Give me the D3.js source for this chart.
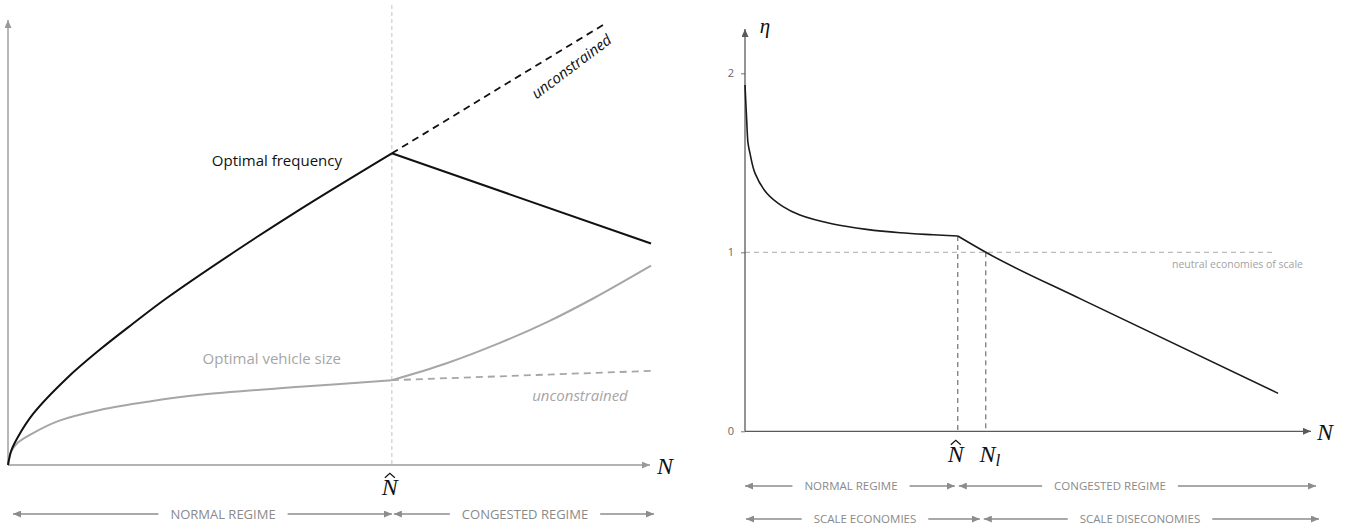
<!DOCTYPE html>
<html>
<head>
<meta charset="utf-8">
<script src="https://cdn.jsdelivr.net/npm/d3@7"></script>
<style>
  body { margin: 0; background: #fff; }
  svg { display: block; }
</style>
</head>
<body>
<svg id="chart" width="1353" height="530"></svg>
<script>
// ---------- Left panel: optimal frequency and vehicle size against demand N ----------
const nHatLeft = 0.597;
const freqNormalN = [0, 0.005, 0.015, 0.039, 0.092, 0.143, 0.194, 0.247, 0.35, 0.45, 0.597];
const freqNormal  = [0, 3.2, 6.2, 11.5, 19.6, 26.0, 31.8, 37.6, 47.8, 57.2, 70.2];
const freqCongestedN = [0.597, 1.0];
const freqCongested  = [70.2, 49.9];
const freqUnconstrainedN = [0.597, 0.931];
const freqUnconstrained  = [70.2, 99.6];

const sizeNormalN = [0, 0.005, 0.015, 0.039, 0.08, 0.143, 0.22, 0.299, 0.454, 0.597];
const sizeNormal  = [0, 3.0, 5.0, 7.2, 10.0, 12.4, 14.3, 15.8, 17.6, 19.1];
const sizeCongestedN = [0.597, 0.68, 0.765, 0.84, 0.91, 1.0];
const sizeCongested  = [19.1, 22.8, 27.5, 32.3, 37.5, 44.9];
const sizeUnconstrainedN = [0.597, 1.0];
const sizeUnconstrained  = [19.1, 21.2];

// ---------- Right panel: scale elasticity eta against N ----------
const nHatRight = 3.80;
const nL = 4.30;
const etaNormalN = [0, 0.03, 0.054, 0.089, 0.18, 0.39, 0.68, 0.98, 1.57, 2.17, 2.77, 3.36, 3.80];
const etaNormal  = [1.935, 1.739, 1.61, 1.553, 1.441, 1.33, 1.255, 1.208, 1.158, 1.128, 1.109, 1.098, 1.091];
const etaCongestedN = [3.80, 4.30, 6.01, 9.52];
const etaCongested  = [1.091, 1.0, 0.737, 0.212];
const etaTicks = [0, 1, 2];
const etaNeutral = 1;
const etaNeutralEndN = 9.43;

const leftRegimes  = ["NORMAL REGIME", "CONGESTED REGIME"];
const rightRegimes = ["NORMAL REGIME", "CONGESTED REGIME"];
const rightScale   = ["SCALE ECONOMIES", "SCALE DISECONOMIES"];

const zip = (xs, ys) => xs.map((x, i) => [x, ys[i]]);

const svg = d3.select("#chart");
const AXIS_L = "#9a9a9a", AXIS_R = "#5a5a5a", LABEL_GREY = "#8a8a8a", CURVE_GREY = "#a6a6a6";
const UI_FONT = "'Open Sans', 'Noto Sans', sans-serif";
const MATH_FONT = "'Liberation Serif', 'DejaVu Serif', serif";

// Arrowhead markers
const defs = svg.append("defs");
function marker(id, color, w, h) {
  defs.append("marker")
    .attr("id", id).attr("viewBox", `0 ${-h} ${w} ${2 * h}`)
    .attr("refX", w).attr("refY", 0)
    .attr("markerWidth", w).attr("markerHeight", 2 * h)
    .attr("markerUnits", "userSpaceOnUse")
    .attr("orient", "auto-start-reverse")
    .append("path").attr("d", `M0,${-h}L${w},0L0,${h}Z`).attr("fill", color);
}
marker("arrL", AXIS_L, 8, 3.5);
marker("arrR", AXIS_R, 8, 3.5);
marker("arrB", "#8c8c8c", 8, 3.5);

// ================= LEFT PANEL =================
const xL = d3.scaleLinear().domain([0, 1]).range([8, 651]);
const yL = d3.scaleLinear().domain([0, 100]).range([465, 21]);
const smoothL = d3.line().x(d => xL(d[0])).y(d => yL(d[1])).curve(d3.curveCatmullRom.alpha(0.5));
const straightL = d3.line().x(d => xL(d[0])).y(d => yL(d[1]));

const gL = svg.append("g");

// N-hat guide
gL.append("line")
  .attr("x1", xL(nHatLeft)).attr("x2", xL(nHatLeft))
  .attr("y1", 5).attr("y2", yL(0))
  .attr("stroke", "#c4c4c4").attr("stroke-width", 1).attr("stroke-dasharray", "4,3");

// Axes with arrowheads
gL.append("line")
  .attr("x1", xL(0)).attr("y1", yL(0)).attr("x2", xL(0)).attr("y2", yL.range()[1] - 1)
  .attr("stroke", AXIS_L).attr("stroke-width", 1.4).attr("marker-end", "url(#arrL)");
gL.append("line")
  .attr("x1", xL(0)).attr("y1", yL(0)).attr("x2", xL(1) - 1).attr("y2", yL(0))
  .attr("stroke", AXIS_L).attr("stroke-width", 1.4).attr("marker-end", "url(#arrL)");

// Vehicle size (grey)
gL.append("path").datum(zip(sizeUnconstrainedN, sizeUnconstrained)).attr("d", straightL)
  .attr("fill", "none").attr("stroke", CURVE_GREY).attr("stroke-width", 1.8).attr("stroke-dasharray", "7,5");
gL.append("path").datum(zip(sizeNormalN, sizeNormal)).attr("d", smoothL)
  .attr("fill", "none").attr("stroke", CURVE_GREY).attr("stroke-width", 2);
gL.append("path").datum(zip(sizeCongestedN, sizeCongested)).attr("d", smoothL)
  .attr("fill", "none").attr("stroke", CURVE_GREY).attr("stroke-width", 2);

// Frequency (black)
gL.append("path").datum(zip(freqUnconstrainedN, freqUnconstrained)).attr("d", straightL)
  .attr("fill", "none").attr("stroke", "#111").attr("stroke-width", 1.8).attr("stroke-dasharray", "7,5");
gL.append("path").datum(zip(freqNormalN, freqNormal)).attr("d", smoothL)
  .attr("fill", "none").attr("stroke", "#111").attr("stroke-width", 2);
gL.append("path").datum(zip(freqCongestedN, freqCongested)).attr("d", straightL)
  .attr("fill", "none").attr("stroke", "#111").attr("stroke-width", 2);

// Curve labels
gL.append("text").attr("x", 342).attr("y", 166).attr("text-anchor", "end")
  .attr("font-family", UI_FONT).attr("font-size", 15).attr("fill", "#111")
  .text("Optimal frequency");
gL.append("text").attr("x", 341).attr("y", 364).attr("text-anchor", "end")
  .attr("font-family", UI_FONT).attr("font-size", 15).attr("fill", CURVE_GREY)
  .text("Optimal vehicle size");
gL.append("text").attr("transform", "translate(571,66) rotate(-37)")
  .attr("text-anchor", "middle").attr("dominant-baseline", "central")
  .attr("font-family", UI_FONT).attr("font-size", 15).attr("font-style", "italic").attr("fill", "#111")
  .text("unconstrained");
gL.append("text").attr("x", 580).attr("y", 401).attr("text-anchor", "middle")
  .attr("font-family", UI_FONT).attr("font-size", 15).attr("font-style", "italic").attr("fill", CURVE_GREY)
  .text("unconstrained");

// Math labels
function mathN(g, cx, baseline, size, hat, sub) {
  const t = g.append("text").attr("x", cx).attr("y", baseline).attr("text-anchor", "middle")
    .attr("font-family", MATH_FONT).attr("font-size", size).attr("font-style", "italic").attr("fill", "#111");
  t.append("tspan").text("N");
  if (sub) t.append("tspan").attr("font-size", size * 0.72).attr("dy", size * 0.18).text(sub);
  if (hat) {
    const top = baseline - size * 0.72;
    g.append("path")
      .attr("d", `M${cx - 5},${top} L${cx},${top - 4.5} L${cx + 5},${top}`)
      .attr("fill", "none").attr("stroke", "#111").attr("stroke-width", 1.2);
  }
}
mathN(gL, 665, 474, 24, false);
mathN(gL, xL(nHatLeft) - 2, 495, 24, true);

// Regime arrows
function regime(g, x0, x1, y, label, cx, size) {
  const t = g.append("text").attr("x", cx).attr("y", y + size * 0.36).attr("text-anchor", "middle")
    .attr("font-family", UI_FONT).attr("font-size", size).attr("fill", LABEL_GREY).text(label);
  const w = t.node().getComputedTextLength();
  const gap = 12;
  g.append("line").attr("x1", cx - w / 2 - gap).attr("x2", x0).attr("y1", y).attr("y2", y)
    .attr("stroke", "#8c8c8c").attr("stroke-width", 1.3).attr("marker-end", "url(#arrB)");
  g.append("line").attr("x1", cx + w / 2 + gap).attr("x2", x1).attr("y1", y).attr("y2", y)
    .attr("stroke", "#8c8c8c").attr("stroke-width", 1.3).attr("marker-end", "url(#arrB)");
}
regime(gL, 13, xL(nHatLeft), 514, leftRegimes[0], 223, 13);
regime(gL, xL(nHatLeft) + 2, 654, 514, leftRegimes[1], 525, 13);

// ================= RIGHT PANEL =================
const xR = d3.scaleLinear().domain([0, 10]).range([745, 1305]);
const yR = d3.scaleLinear().domain([0, 2]).range([431.3, 73.3]);
const smoothR = d3.line().x(d => xR(d[0])).y(d => yR(d[1])).curve(d3.curveCatmullRom.alpha(0.5));
const monoR = d3.line().x(d => xR(d[0])).y(d => yR(d[1])).curve(d3.curveMonotoneX);

const gR = svg.append("g");

// Neutral economies of scale reference
gR.append("line")
  .attr("x1", xR(0)).attr("x2", xR(etaNeutralEndN)).attr("y1", yR(etaNeutral)).attr("y2", yR(etaNeutral))
  .attr("stroke", "#ababab").attr("stroke-width", 1).attr("stroke-dasharray", "5,4");
gR.append("text").attr("x", 1303).attr("y", yR(etaNeutral) + 15.5).attr("text-anchor", "end")
  .attr("font-family", UI_FONT).attr("font-size", 10.5).attr("fill", "#a3a3a3")
  .text("neutral economies of scale");

// Threshold guides
const etaAtHat = etaCongested[0];
gR.append("line").attr("x1", xR(nHatRight)).attr("x2", xR(nHatRight))
  .attr("y1", yR(etaAtHat)).attr("y2", yR(0))
  .attr("stroke", "#555").attr("stroke-width", 1).attr("stroke-dasharray", "5,4");
gR.append("line").attr("x1", xR(nL)).attr("x2", xR(nL))
  .attr("y1", yR(etaNeutral)).attr("y2", yR(0))
  .attr("stroke", "#555").attr("stroke-width", 1).attr("stroke-dasharray", "5,4");

// Axes
const yAxis = d3.axisLeft(yR).tickValues(etaTicks).tickSize(4).tickPadding(7).tickFormat(d3.format("d"));
const ya = gR.append("g").attr("transform", `translate(${xR(0)},0)`).call(yAxis);
ya.select(".domain").remove();
ya.selectAll(".tick line").attr("stroke", "#777");
ya.selectAll(".tick text").attr("font-family", UI_FONT).attr("font-size", 11).attr("fill", "#666");

gR.append("line")
  .attr("x1", xR(0)).attr("y1", yR(0)).attr("x2", xR(0)).attr("y2", 29)
  .attr("stroke", AXIS_R).attr("stroke-width", 1.3).attr("marker-end", "url(#arrR)");
gR.append("line")
  .attr("x1", xR(0)).attr("y1", yR(0)).attr("x2", xR.range()[1] + 6).attr("y2", yR(0))
  .attr("stroke", AXIS_R).attr("stroke-width", 1.3).attr("marker-end", "url(#arrR)");

// Eta curve: smooth decline in the normal regime, kinked at N-hat
gR.append("path").datum(zip(etaNormalN, etaNormal)).attr("d", smoothR)
  .attr("fill", "none").attr("stroke", "#1a1a1a").attr("stroke-width", 1.6);
gR.append("path").datum(zip(etaCongestedN, etaCongested)).attr("d", monoR)
  .attr("fill", "none").attr("stroke", "#1a1a1a").attr("stroke-width", 1.6);

// Math labels
gR.append("text").attr("x", 765).attr("y", 33).attr("text-anchor", "middle")
  .attr("font-family", MATH_FONT).attr("font-size", 21).attr("font-style", "italic").attr("fill", "#111")
  .text("η");
mathN(gR, 1325, 440, 24, false);
mathN(gR, xR(nHatRight) - 2, 462, 24, true);
mathN(gR, xR(nL) + 4, 462, 24, false, "l");

regime(gR, xR(0), xR(nHatRight) - 3, 486, rightRegimes[0], 851, 11.5);
regime(gR, xR(nHatRight) + 1, 1316, 486, rightRegimes[1], 1110, 11.5);
regime(gR, xR(0) + 1, xR(nL) - 6, 519, rightScale[0], 865, 11.5);
regime(gR, xR(nL) - 2, 1319, 519, rightScale[1], 1140, 11.5);
</script>
</body>
</html>
